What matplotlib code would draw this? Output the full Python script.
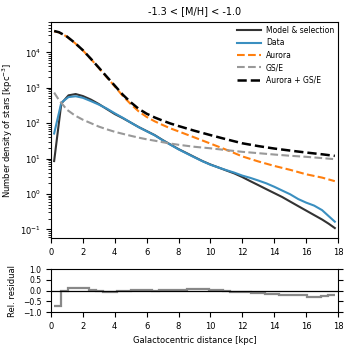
import matplotlib
matplotlib.use("Agg")
import matplotlib.pyplot as plt
import numpy as np

# Components
r_comp = [0.2, 0.5, 1.0, 1.5, 2.0, 2.5, 3.0, 3.5, 4.0, 4.5, 5.0, 5.5, 6.0, 6.5,
          7.0, 7.5, 8.0, 9.0, 10.0, 11.0, 12.0, 13.0, 14.0, 15.0, 16.0, 17.0, 17.8]
aurora = [39300, 36600, 27760, 18335, 11375, 6500, 3620, 1983, 1093, 590, 346, 215,
          150, 113, 89, 71, 58.5, 39.5, 26.5, 17.7, 11.5, 8.3, 6.2, 4.8, 3.6, 2.9, 2.3]
gse = [730, 450, 240, 165, 125, 100, 80, 67, 57, 50, 44, 39, 35, 32,
       29, 26.5, 24.5, 21.5, 19.5, 17.3, 15.5, 14.2, 13.0, 12.0, 11.2, 10.3, 9.6]

# Model & data
r_fit = [0.2, 0.65, 1.1, 1.55, 2.0, 2.5, 3.0, 3.5, 4.0, 4.5, 5.0, 5.5, 6.0, 6.5,
         7.0, 7.5, 8.0, 8.5, 9.0, 9.5, 10.0, 10.5, 11.0, 11.5, 12.0, 12.5, 13.0,
         13.5, 14.0, 14.5, 15.0, 15.5, 16.0, 16.5, 17.0, 17.4, 17.8]
model = [8.5, 360, 610, 664, 583, 464, 347, 250, 181, 139, 104, 77.6, 59.8, 46.1,
         33.4, 24.8, 18.5, 14.3, 11.0, 8.5, 6.8, 5.6, 4.6, 3.8, 3.0, 2.3, 1.78,
         1.37, 1.06, 0.82, 0.61, 0.455, 0.34, 0.254, 0.19, 0.146, 0.109]
data = [51, 380, 545, 575, 520, 420, 335, 258, 190, 142, 104, 77, 59, 45.5,
        33, 24.5, 18.2, 14.0, 10.8, 8.4, 6.7, 5.6, 4.7, 4.0, 3.3, 2.85, 2.4,
        2.0, 1.6, 1.25, 0.98, 0.72, 0.57, 0.47, 0.35, 0.24, 0.165]

# Relative residual per bin
res_edges = np.linspace(0.2, 17.8, 41)
residual = [-0.72, 0.0, 0.12, 0.11, 0.10, 0.02, -0.04, -0.07, -0.06, -0.03,
            -0.01, 0.01, 0.02, 0.01, 0.0, 0.02, 0.03, 0.04, 0.04, 0.05,
            0.05, 0.05, 0.04, 0.02, 0.0, -0.05, -0.06, -0.07, -0.11, -0.13,
            -0.15, -0.17, -0.19, -0.2, -0.2, -0.21, -0.28, -0.28, -0.24, -0.22]

total = np.array(aurora) + np.array(gse)

plt.rcParams["font.size"] = 6

fig = plt.figure(figsize=(3.49, 3.49), dpi=100)
ax = fig.add_axes([0.146, 0.318, 0.8225, 0.619])
ax2 = fig.add_axes([0.146, 0.106, 0.8225, 0.123])

ax.plot(r_fit, model, color="#333333", lw=1.5, label="Model & selection")
ax.plot(r_fit, data, color="#3a8fc0", lw=1.5, label="Data")
ax.plot(r_comp, aurora, color="#ff7f0e", lw=1.5, ls="--", label="Aurora")
ax.plot(r_comp, gse, color="#999999", lw=1.5, ls="--", label="GS/E")
ax.plot(r_comp, total, color="black", lw=1.8, ls="--", label="Aurora + GS/E")

ax.set_yscale("log")
ax.set_xlim(0, 18)
ax.set_ylim(0.057, 7.2e4)
ax.set_xticks(np.arange(0, 19, 2))
ax.set_ylabel("Number density of stars [kpc$^{-3}$]")
ax.set_title("-1.3 < [M/H] < -1.0", fontsize=7)
ax.legend(loc="upper right", frameon=False, handlelength=3.2, handletextpad=0.6,
          labelspacing=0.45, borderaxespad=0.1, fontsize=5.5)

ax2.stairs(residual, res_edges, color="#888888", lw=1.6, baseline=None)
ax2.axhline(0, color="black", lw=0.9)
ax2.set_xlim(0, 18)
ax2.set_ylim(-1, 1)
ax2.set_xticks(np.arange(0, 19, 2))
ax2.set_yticks([-1, -0.5, 0, 0.5, 1])
ax2.tick_params(right=True)
ax2.tick_params(axis="y", labelsize=5.5)
ax2.set_ylabel("Rel. residual")
ax2.set_xlabel("Galactocentric distance [kpc]")

fig.align_ylabels([ax, ax2])
fig.savefig("out.png", dpi=100)
